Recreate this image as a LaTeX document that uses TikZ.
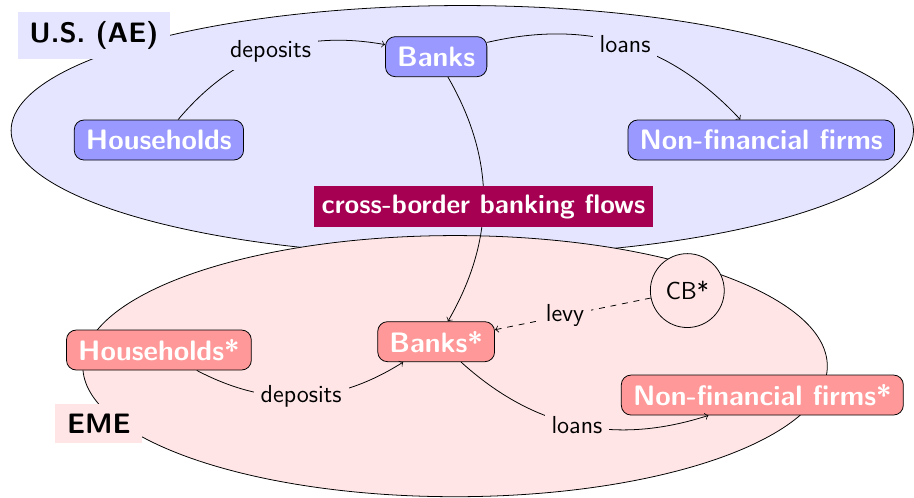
\documentclass[tikz,border=0pt]{standalone}
\usepackage{tikz}
\usepackage{amsmath}

\definecolor{xborder}{RGB}{166,0,82}

\begin{document}
\begin{tikzpicture}[ae/.style = {draw, rounded corners=5pt, fill=blue!40, text=white, font=\Large\bfseries\sffamily, inner xsep=6pt, minimum height=0.72cm},
        eme/.style = {ae, fill=red!40},
        flow/.style = {font=\fontsize{12.6}{15}\selectfont\sffamily, inner sep=3.5pt},
        region/.style = {font=\Large\bfseries\sffamily, inner xsep=6pt}]
        \useasboundingbox (0,0) rectangle (16.45,8.96);
        % the two economies
        \draw[fill=blue!10] (8.32,6.61) ellipse [x radius=8.12cm, y radius=2.25cm];
        \draw[fill=red!10] (8.19,2.37) ellipse [x radius=6.70cm, y radius=2.35cm];
        \node[region, fill=blue!10, minimum height=0.86cm] (us) at (1.69,8.32) {U.S. (AE)};
        \node[region, fill=red!10, minimum height=0.70cm] (em) at (1.78,1.33) {EME};

        \node[ae] (b) at (7.85,7.94) {Banks};
        \node[ae] (h) at (2.86,6.44) {Households};
        \node[ae] (f) at (13.70,6.44) {Non-financial firms};
        \node[eme] (bs) at (7.85,2.81) {Banks*};
        \node[eme] (hs) at (2.86,2.66) {Households*};
        \node[eme] (fs) at (13.72,1.85) {Non-financial firms*};
        \node[draw, circle, fill=red!10, minimum size=1.33cm, font=\fontsize{12.6}{15}\selectfont\sffamily] (cb) at (12.37,3.73) {CB*};

        \draw[->] (h) to[bend left=30] node[flow, fill=blue!10] {deposits} (b);
        \draw[->] (b) to[bend left=30] node[flow, fill=blue!10] {loans} (f);
        \draw[->] (hs) to[bend right=30] node[flow, fill=red!10] {deposits} (bs);
        \draw[->] (bs) to[bend right=30] node[flow, fill=red!10] {loans} (fs);
        \draw[->] (b) to[bend left=30] node[pos=0.53, fill=xborder, text=white, font=\fontsize{13.7}{16}\selectfont\bfseries\sffamily, inner xsep=4pt, minimum height=0.74cm] {cross-border banking flows} (bs);
        \draw[->, dashed] (cb) -- node[flow, fill=red!10, pos=0.55] {levy} (bs);
    \end{tikzpicture}
\end{document}
